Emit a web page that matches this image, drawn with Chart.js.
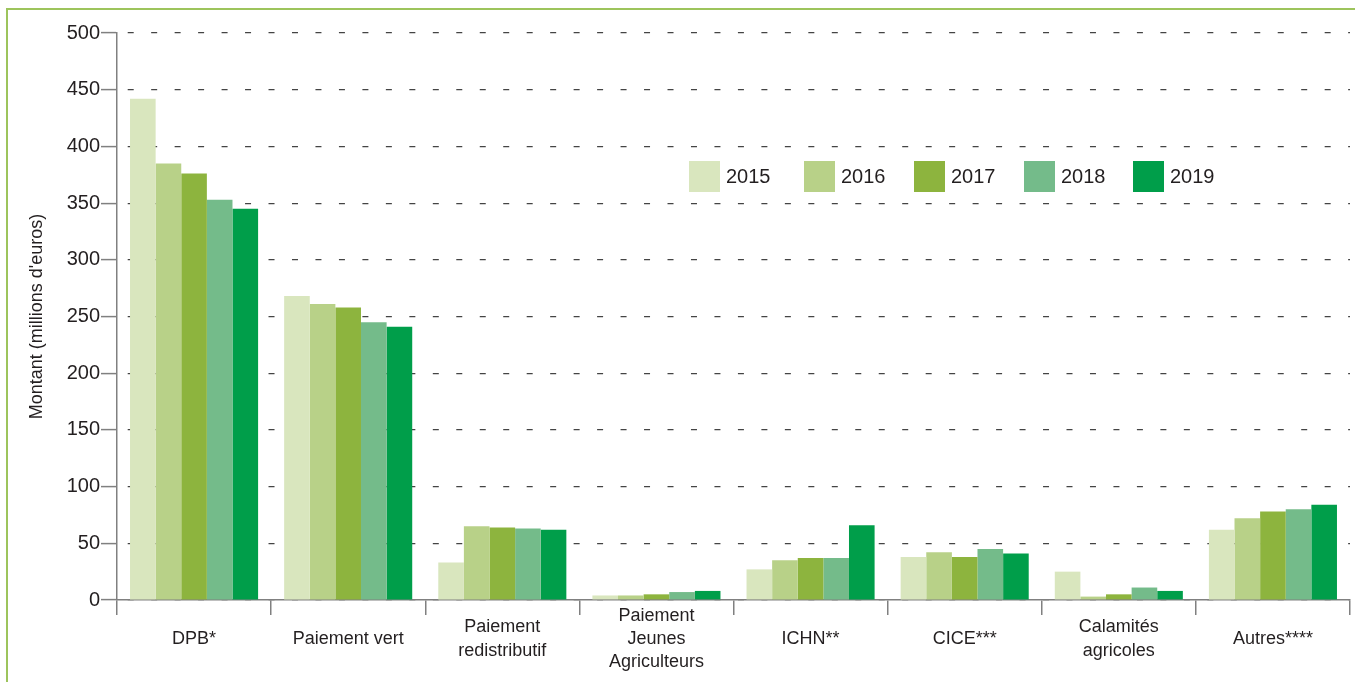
<!DOCTYPE html>
<html>
<head>
<meta charset="utf-8">
<script src="https://cdn.jsdelivr.net/npm/chart.js@4"></script>
<style>
html, body { margin: 0; padding: 0; background: #fff; overflow: hidden; }
#frame { position: absolute; left: 6px; top: 8px; width: 1400px; height: 700px;
         border-left: 2px solid #9dc45c; border-top: 2px solid #9dc45c; }
#wrap { position: absolute; left: 0; top: 0; width: 1355px; height: 682px; }
</style>
</head>
<body>
<div id="frame"></div>
<div id="wrap"><canvas id="chart"></canvas></div>
<script>
const categories = ['DPB*', 'Paiement vert', ['Paiement', 'redistributif'], ['Paiement', 'Jeunes', 'Agriculteurs'],
    'ICHN**', 'CICE***', ['Calamités', 'agricoles'], 'Autres****'];
const years = ['2015', '2016', '2017', '2018', '2019'];
const values2015 = [442, 268, 33, 4, 27, 38, 25, 62];
const values2016 = [385, 261, 65, 4, 35, 42, 3, 72];
const values2017 = [376, 258, 64, 5, 37, 38, 5, 78];
const values2018 = [353, 245, 63, 7, 37, 45, 11, 80];
const values2019 = [345, 241, 62, 8, 66, 41, 8, 84];
const yTicks = [0, 50, 100, 150, 200, 250, 300, 350, 400, 450, 500];

const colors = ['#d9e6be', '#b8d188', '#8db43e', '#74bb8a', '#009e4a'];
const textColor = '#231f20';
const font = 'Liberation Sans, Arial, sans-serif';

// legend drawn inside the plot, in one row
const insideLegend = {
    id: 'insideLegend',
    afterDatasetsDraw(chart) {
        const { ctx, chartArea } = chart;
        const starts = [0, 115, 225, 335, 444];
        const yMid = chartArea.top + 143;
        ctx.save();
        ctx.font = '20px ' + font;
        ctx.textBaseline = 'middle';
        ctx.textAlign = 'left';
        chart.data.datasets.forEach((ds, i) => {
            const x = chartArea.left + 572 + starts[i];
            ctx.fillStyle = ds.backgroundColor;
            ctx.fillRect(x, yMid - 15, 31, 31);
            ctx.fillStyle = textColor;
            ctx.fillText(ds.label, x + 37, yMid + 1);
        });
        ctx.restore();
    }
};

const seriesValues = [values2015, values2016, values2017, values2018, values2019];

new Chart(document.getElementById('chart'), {
    type: 'bar',
    data: {
        labels: categories,
        datasets: years.map((y, i) => ({
            label: y,
            data: seriesValues[i],
            backgroundColor: colors[i],
            borderWidth: 0,
            categoryPercentage: 0.831,
            barPercentage: 1,
        })),
    },
    options: {
        responsive: true,
        maintainAspectRatio: false,
        animation: false,
        layout: { padding: { top: 33, right: 5, bottom: 0, left: 0 } },
        plugins: {
            legend: { display: false },
            tooltip: { enabled: false },
        },
        scales: {
            x: {
                afterFit: s => { s.height = 82; },
                grid: {
                    display: true,
                    drawOnChartArea: false,
                    drawTicks: true,
                    offset: true,
                    tickLength: 15,
                    color: '#808080',
                    lineWidth: 1.5,
                },
                border: { display: true, color: '#808080', width: 1.5 },
                ticks: {
                    color: textColor,
                    font: { family: font, size: 18, lineHeight: 1.28 },
                    padding: 1,
                    crossAlign: 'center',
                    maxRotation: 0,
                    autoSkip: false,
                },
            },
            y: {
                min: 0,
                max: 500,
                afterFit: s => { s.width = 117; },
                afterBuildTicks: s => { s.ticks = yTicks.map(v => ({ value: v })); },
                grid: {
                    color: '#444',
                    lineWidth: 1.2,
                    tickLength: 16,
                    tickColor: '#808080',
                    tickWidth: 1.5,
                    tickBorderDash: [],
                },
                border: { display: true, color: '#808080', width: 1.5, dash: [6, 17.47], dashOffset: 13.27 },
                ticks: {
                    color: textColor,
                    font: { family: font, size: 20 },
                    padding: 1,
                },
                title: {
                    display: true,
                    text: "Montant (millions d'euros)",
                    color: textColor,
                    font: { family: font, size: 18 },
                    padding: { top: 26, bottom: 0 },
                },
            },
        },
    },
    plugins: [insideLegend],
});
</script>
</body>
</html>
